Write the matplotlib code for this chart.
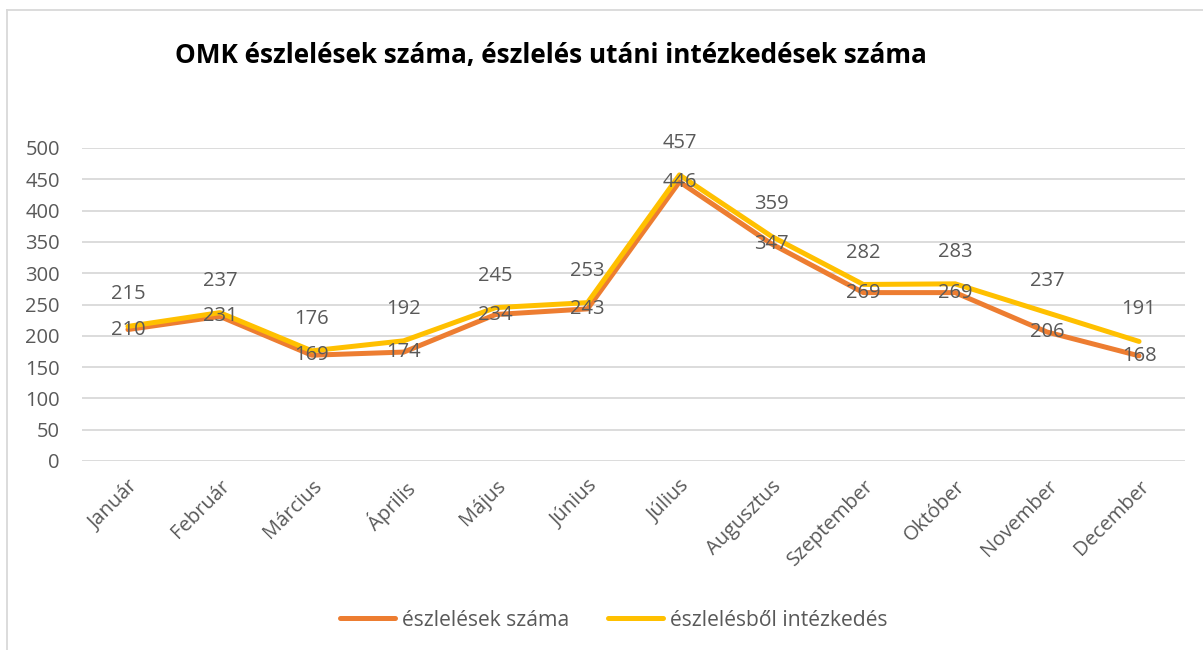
import matplotlib
matplotlib.use('Agg')
import matplotlib.pyplot as plt
from matplotlib.lines import Line2D

months = ['Január', 'Február', 'Március', 'Április', 'Május', 'Június',
          'Július', 'Augusztus', 'Szeptember', 'Október', 'November', 'December']
eszlelesek = [210, 231, 169, 174, 234, 243, 446, 347, 269, 269, 206, 168]
intezkedes = [215, 237, 176, 192, 245, 253, 457, 359, 282, 283, 237, 191]
yticks = [0, 50, 100, 150, 200, 250, 300, 350, 400, 450, 500]

plt.rcParams['font.family'] = ['Open Sans', 'DejaVu Sans']
txt = '#595959'
orange = '#ED7D31'
yellow = '#FFC000'

W, H = 1203, 650
fig = plt.figure(figsize=(W / 100, H / 100), dpi=100)
# plot area in pixels: x 82..1185, y 148..461
ax = fig.add_axes([82 / W, 1 - 461 / H, (1185 - 82) / W, (461 - 148) / H])

x = list(range(len(months)))
ax.plot(x, eszlelesek, color=orange, lw=3.6, solid_capstyle='round', zorder=3)
ax.plot(x, intezkedes, color=yellow, lw=3.6, solid_capstyle='round', zorder=4)

for i in x:
    ax.annotate(str(eszlelesek[i]), (i, eszlelesek[i]), ha='center', va='center',
                fontsize=14.5, color=txt, zorder=5)
    ax.annotate(str(intezkedes[i]), (i, intezkedes[i]), xytext=(0, 23),
                textcoords='offset points', ha='center', va='center',
                fontsize=14.5, color=txt, zorder=5)

ax.set_xlim(-0.5, 11.5)
ax.set_ylim(0, 500)
ax.set_yticks(yticks)
ax.yaxis.grid(True, color='#D9D9D9', lw=1.3)
ax.set_axisbelow(True)
for s in ax.spines.values():
    s.set_visible(False)
ax.tick_params(length=0, labelsize=14.5, colors=txt)
ax.tick_params(axis='y', pad=16)
ax.set_xticks(x)
ax.set_xticklabels(months, rotation=45, ha='right', rotation_mode='anchor')
ax.tick_params(axis='x', pad=11)

fig.text(175 / W, 1 - 55 / H, 'OMK észlelések száma, észlelés utáni intézkedések száma',
         fontsize=18.8, fontweight='bold', color='black', va='center', ha='left')

handles = [Line2D([], [], color=orange, lw=3.6, solid_capstyle='round'),
           Line2D([], [], color=yellow, lw=3.6, solid_capstyle='round')]
fig.legend(handles, ['észlelések száma', 'észlelésből intézkedés'],
           loc='center', bbox_to_anchor=(0.51, 1 - 620 / H), ncol=2, frameon=False,
           fontsize=15.2, labelcolor=txt, handlelength=2.6, handletextpad=0.33,
           columnspacing=1.85)

# border of the chart area (only top and left visible in the crop)
fig.add_artist(Line2D([7 / W, 7 / W], [0, 1 - 10 / H], color='#D9D9D9', lw=1.3,
                      transform=fig.transFigure))
fig.add_artist(Line2D([7 / W, 1], [1 - 10 / H, 1 - 10 / H], color='#D9D9D9', lw=1.3,
                      transform=fig.transFigure))

fig.savefig('out.png', dpi=100)
